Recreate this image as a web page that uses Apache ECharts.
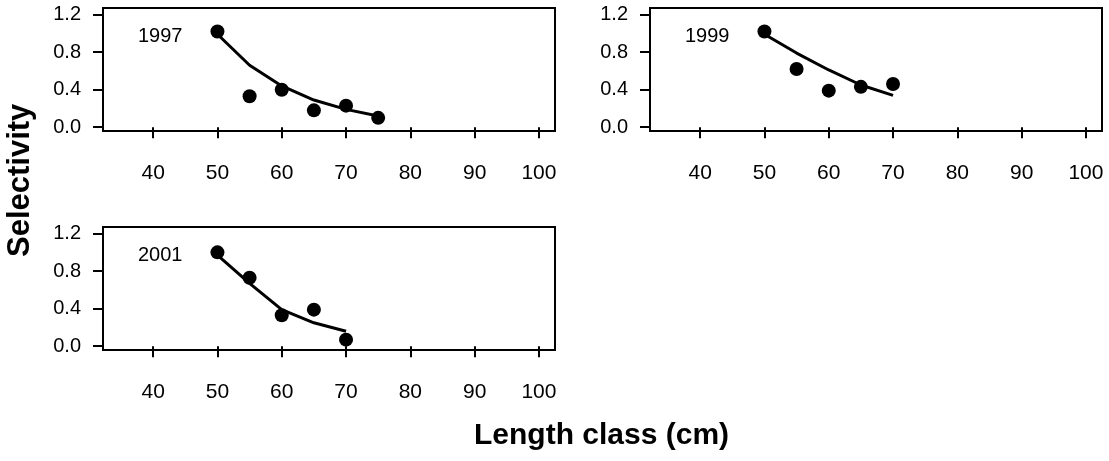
<!DOCTYPE html>
<html>
<head>
<meta charset="utf-8">
<script src="https://cdn.jsdelivr.net/npm/echarts@6/dist/echarts.min.js"></script>
<style>
html, body { margin: 0; padding: 0; background: #fff; }
#main { width: 1109px; height: 461px; }
</style>
</head>
<body>
<div id="main"></div>
<script>
// length classes per year (cm)
var len1997 = [50, 55, 60, 65, 70, 75];
var len1999 = [50, 55, 60, 65, 70];
var len2001 = [50, 55, 60, 65, 70];

// observed selectivity
var obs1997 = [1.02, 0.33, 0.40, 0.18, 0.23, 0.10];
var obs1999 = [1.02, 0.62, 0.39, 0.43, 0.46];
var obs2001 = [1.00, 0.73, 0.33, 0.39, 0.07];

// fitted curve
var fit1997 = [0.99, 0.66, 0.44, 0.29, 0.19, 0.12];
var fit1999 = [0.99, 0.79, 0.61, 0.45, 0.34];
var fit2001 = [0.97, 0.67, 0.39, 0.25, 0.16];

var years = ['1997', '1999', '2001'];
var xTicks = [40, 50, 60, 70, 80, 90, 100];
var yTicks = [0.0, 0.4, 0.8, 1.2];

var font = 'Liberation Sans, Arial, sans-serif';

function pairs(xs, ys) {
	var out = [];
	for (var i = 0; i < xs.length; i++) {
		out.push([xs[i], ys[i]]);
	}
	return out;
}

var panels = [
	{ left : 103, top : 8, lens : len1997, obs : obs1997, fit : fit1997 },
	{ left : 650, top : 8, lens : len1999, obs : obs1999, fit : fit1999 },
	{ left : 103, top : 227, lens : len2001, obs : obs2001, fit : fit2001 }
];

var grids = [], xAxes = [], yAxes = [], series = [], texts = [];

panels.forEach(function(p, i) {
	grids.push({
		left : p.left, top : p.top, width : 452, height : 123,
		show : true, borderColor : '#000', borderWidth : 2,
		backgroundColor : 'transparent'
	});
	xAxes.push({
		type : 'value', gridIndex : i, min : 32.2, max : 102.5,
		offset : 2,
		splitLine : { show : false },
		axisLine : { show : false },
		axisTick : { show : true, length : 11, customValues : xTicks,
			lineStyle : { color : '#000', width : 2 } },
		axisLabel : { customValues : xTicks, margin : 30, color : '#000',
			fontSize : 21, fontFamily : font }
	});
	yAxes.push({
		type : 'value', gridIndex : i, min : -0.04, max : 1.27,
		splitLine : { show : false },
		axisLine : { show : false },
		axisTick : { show : true, length : 10, customValues : yTicks,
			lineStyle : { color : '#000', width : 2 } },
		axisLabel : { customValues : yTicks, margin : 22, color : '#000',
			fontSize : 20, fontFamily : font,
			formatter : function(v) { return v.toFixed(1); } }
	});
	series.push({
		type : 'line', xAxisIndex : i, yAxisIndex : i,
		data : pairs(p.lens, p.fit),
		showSymbol : false, silent : true,
		lineStyle : { color : '#000', width : 3 }
	});
	series.push({
		type : 'scatter', xAxisIndex : i, yAxisIndex : i,
		data : pairs(p.lens, p.obs),
		symbol : 'circle', symbolSize : 14,
		itemStyle : { color : '#000', opacity : 1 }
	});
	texts.push({
		type : 'text', left : p.left + 35, top : p.top + 18,
		style : { text : years[i], fontSize : 20, fontFamily : font, fill : '#000' }
	});
});

texts.push({
	type : 'text', left : 474, top : 421,
	style : { text : 'Length class (cm)', fontSize : 30, fontWeight : 'bold',
		fontFamily : font, fill : '#000' }
});
texts.push({
	type : 'text', x : 5, y : 257, rotation : Math.PI / 2,
	style : { text : 'Selectivity', fontSize : 31, fontWeight : 'bold',
		fontFamily : font, fill : '#000' }
});

var chart = echarts.init(document.getElementById('main'));
chart.setOption({
	animation : false,
	backgroundColor : '#fff',
	grid : grids,
	xAxis : xAxes,
	yAxis : yAxes,
	series : series,
	graphic : texts
});
</script>
</body>
</html>
